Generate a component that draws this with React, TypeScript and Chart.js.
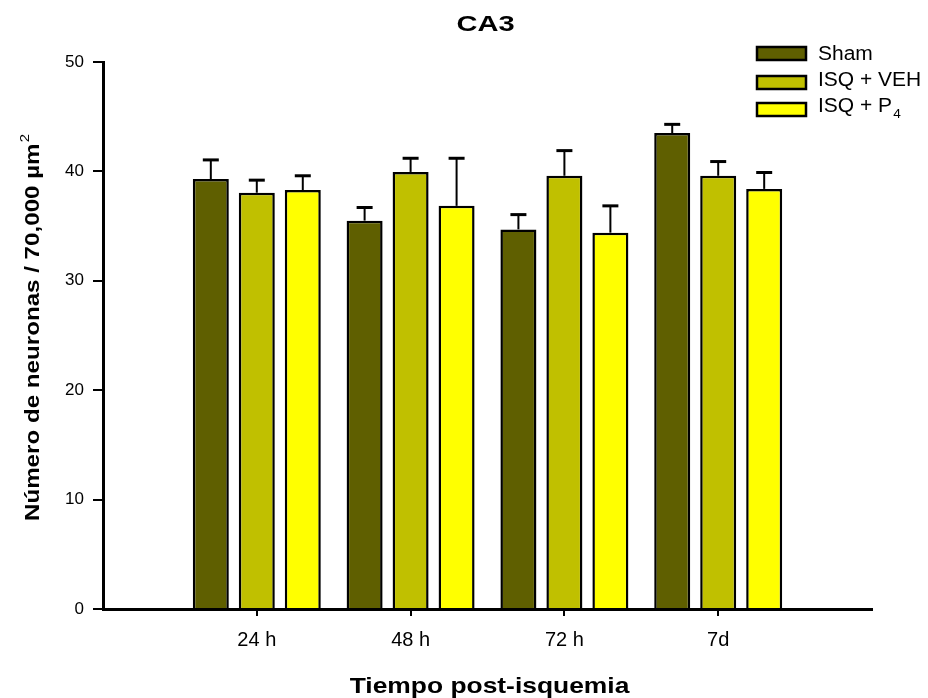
import React, { useEffect, useRef } from 'react';
import { Chart, registerables } from 'chart.js';

Chart.register(...registerables);

// ---- data ----
const categories = ['', '24 h', '48 h', '72 h', '7d', ''];
const seriesLabels = ['Sham', 'ISQ + VEH', 'ISQ + P₄'];
const shamValues = [null, 39.3, 35.5, 34.7, 43.5, null];
const shamErrors = [null, 1.75, 1.2, 1.35, 0.8, null];
const vehValues = [null, 38.05, 39.95, 39.6, 39.6, null];
const vehErrors = [null, 1.15, 1.25, 2.3, 1.3, null];
const p4Values = [null, 38.3, 36.85, 34.4, 38.4, null];
const p4Errors = [null, 1.3, 4.35, 2.45, 1.5, null];
const yMin = 0;
const yMax = 50;
const yStep = 10;
const titleText = 'CA3';
const xTitleText = 'Tiempo post-isquemia';
const yTitleMain = 'Número de neuronas / 70,000 µm';
const yTitleSup = '2';

const seriesColors = ['#5f5f00', '#c0c000', '#ffff00'];
const FONT = '"Liberation Sans", Arial, sans-serif';

function drawStretched(ctx: CanvasRenderingContext2D, text: string, x: number, y: number, font: string, sx: number, align: CanvasTextAlign) {
  ctx.save();
  ctx.translate(x, y);
  ctx.scale(sx, 1);
  ctx.font = font;
  ctx.textAlign = align;
  ctx.textBaseline = 'alphabetic';
  ctx.fillStyle = '#000';
  ctx.fillText(text, 0, 0);
  ctx.restore();
}

const errorBarPlugin = {
  id: 'errorBars',
  afterDatasetsDraw(chart: any) {
    const ctx = chart.ctx as CanvasRenderingContext2D;
    const yScale = chart.scales.y;
    chart.data.datasets.forEach((ds: any, i: number) => {
      const meta = chart.getDatasetMeta(i);
      meta.data.forEach((bar: any, j: number) => {
        const v = ds.data[j];
        const e = ds.errors[j];
        if (v == null || e == null) return;
        const top = yScale.getPixelForValue(v + e);
        ctx.save();
        ctx.strokeStyle = '#000';
        ctx.lineWidth = 2;
        ctx.beginPath();
        ctx.moveTo(bar.x, bar.y);
        ctx.lineTo(bar.x, top);
        ctx.stroke();
        ctx.lineWidth = 3;
        ctx.beginPath();
        ctx.moveTo(bar.x - 8, top);
        ctx.lineTo(bar.x + 8, top);
        ctx.stroke();
        ctx.restore();
      });
    });
  },
};

const decorPlugin = {
  id: 'decor',
  afterDraw(chart: any) {
    const ctx = chart.ctx as CanvasRenderingContext2D;
    const area = chart.chartArea;
    const cx = (area.left + area.right) / 2;
    // title
    drawStretched(ctx, titleText, cx - 2, 30.5, `bold 22px ${FONT}`, 1.32, 'center');
    // x title
    drawStretched(ctx, xTitleText, cx + 2, 693, `bold 22px ${FONT}`, 1.2, 'center');
    // y title (rotated)
    ctx.save();
    ctx.translate(38.5, (area.top + area.bottom) / 2 - 8);
    ctx.rotate(-Math.PI / 2);
    ctx.scale(1.15, 1);
    ctx.font = `bold 21px ${FONT}`;
    const wMain = ctx.measureText(yTitleMain).width;
    ctx.font = `13px ${FONT}`;
    const wSup = ctx.measureText(yTitleSup).width;
    const total = wMain + wSup + 1;
    ctx.fillStyle = '#000';
    ctx.textAlign = 'left';
    ctx.textBaseline = 'alphabetic';
    ctx.font = `bold 21px ${FONT}`;
    ctx.fillText(yTitleMain, -total / 2, 0);
    ctx.font = `13px ${FONT}`;
    ctx.fillText(yTitleSup, -total / 2 + wMain + 1, -10);
    ctx.restore();

    // legend
    const rows = [
      { boxTop: 47, baseline: 60 },
      { boxTop: 76, baseline: 86 },
      { boxTop: 103, baseline: 112 },
    ];
    chart.data.datasets.forEach((ds: any, i: number) => {
      const r = rows[i];
      ctx.save();
      ctx.fillStyle = ds.backgroundColor;
      ctx.fillRect(757, r.boxTop, 49, 13);
      ctx.strokeStyle = '#000';
      ctx.lineWidth = 2.5;
      ctx.strokeRect(757, r.boxTop, 49, 13);
      ctx.restore();
      const label: string = ds.label;
      const subIdx = label.indexOf('₄');
      if (subIdx >= 0) {
        const main = label.slice(0, subIdx);
        ctx.save();
        ctx.translate(818, r.baseline);
        ctx.scale(1.05, 1);
        ctx.font = `20px ${FONT}`;
        ctx.fillStyle = '#000';
        ctx.textAlign = 'left';
        ctx.fillText(main, 0, 0);
        const w = ctx.measureText(main).width;
        ctx.font = `13px ${FONT}`;
        ctx.fillText('4', w + 1, 6);
        ctx.restore();
      } else {
        drawStretched(ctx, label, 818, r.baseline, `20px ${FONT}`, 1.05, 'left');
      }
    });
  },
};

export default function App() {
  const ref = useRef<HTMLCanvasElement | null>(null);
  useEffect(() => {
    if (!ref.current) return;
    const blackTick = (c: any) => (c.index === 0 || c.index === categories.length - 1 ? 'rgba(0,0,0,0)' : '#000');
    const chart = new Chart(ref.current, {
      type: 'bar',
      data: {
        labels: categories,
        datasets: [
          { label: seriesLabels[0], data: shamValues, errors: shamErrors, backgroundColor: seriesColors[0] },
          { label: seriesLabels[1], data: vehValues, errors: vehErrors, backgroundColor: seriesColors[1] },
          { label: seriesLabels[2], data: p4Values, errors: p4Errors, backgroundColor: seriesColors[2] },
        ].map((d) => ({
          ...d,
          borderColor: '#000',
          borderWidth: 2.5,
          categoryPercentage: 0.897,
          barPercentage: 0.783,
        })) as any,
      },
      options: {
        responsive: false,
        animation: false,
        layout: { padding: { top: 62, right: 56, left: 0, bottom: 0 } },
        plugins: { legend: { display: false }, tooltip: { enabled: false }, title: { display: false } },
        scales: {
          x: {
            type: 'category',
            offset: false,
            grid: { offset: false, drawOnChartArea: false, drawTicks: true, tickLength: 7, lineWidth: 2, color: blackTick },
            border: { display: true, color: '#000', width: 3 },
            ticks: { color: '#000', font: { family: FONT, size: 20 }, padding: 12, maxRotation: 0, autoSkip: false },
            afterFit: (s: any) => { s.height = 89; },
          },
          y: {
            min: yMin,
            max: yMax,
            grid: { drawOnChartArea: false, drawTicks: true, tickLength: 10, lineWidth: 2, color: '#000' },
            border: { display: true, color: '#000', width: 3 },
            ticks: { stepSize: yStep, color: '#000', font: { family: FONT, size: 17 }, padding: 9 },
            afterFit: (s: any) => { s.width = 103; },
          },
        },
      } as any,
      plugins: [errorBarPlugin, decorPlugin],
    });
    return () => chart.destroy();
  }, []);
  return (
    <div style={{ position: 'absolute', left: 0, top: 0, width: 928, height: 698, background: '#fff' }}>
      <canvas ref={ref} width={928} height={698} style={{ width: 928, height: 698, display: 'block' }} />
    </div>
  );
}
